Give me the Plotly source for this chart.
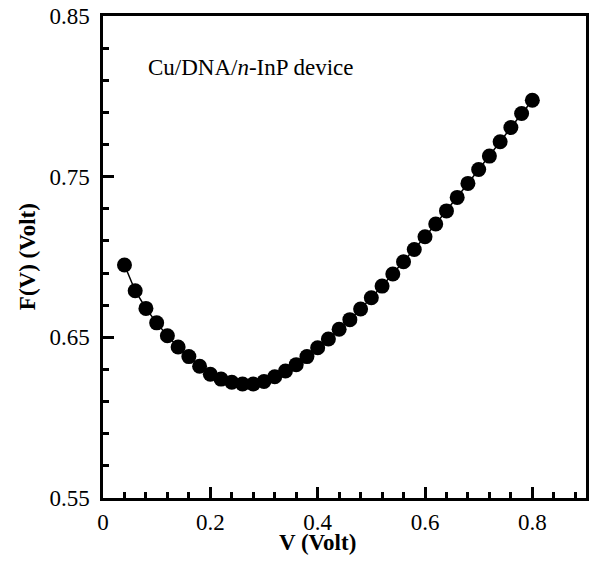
import plotly.graph_objects as go

# bias voltage (V) and Norde function F(V) (V)
voltage = [0.04, 0.06, 0.08, 0.10, 0.12, 0.14, 0.16, 0.18, 0.20, 0.22,
           0.24, 0.26, 0.28, 0.30, 0.32, 0.34, 0.36, 0.38, 0.40, 0.42,
           0.44, 0.46, 0.48, 0.50, 0.52, 0.54, 0.56, 0.58, 0.60, 0.62,
           0.64, 0.66, 0.68, 0.70, 0.72, 0.74, 0.76, 0.78, 0.80]
f_v = [0.695, 0.679, 0.668, 0.659, 0.651, 0.644, 0.638, 0.632, 0.627, 0.624,
       0.622, 0.621, 0.621, 0.6225, 0.6255, 0.629, 0.633, 0.638, 0.6435, 0.649,
       0.655, 0.661, 0.6676, 0.6746, 0.6819, 0.6894, 0.697, 0.7047, 0.7126, 0.7205,
       0.7287, 0.7371, 0.7458, 0.7545, 0.7628, 0.7717, 0.7806, 0.7893, 0.7976]

x_ticks = [0, 0.2, 0.4, 0.6, 0.8]
x_tick_text = ["0", "0.2", "0.4", "0.6", "0.8"]
y_ticks = [0.55, 0.65, 0.75, 0.85]
y_tick_text = ["0.55", "0.65", "0.75", "0.85"]

serif = "Liberation Serif, Times New Roman, serif"

fig = go.Figure(go.Scatter(
    x=voltage, y=f_v,
    mode="lines+markers",
    line=dict(color="black", width=1.5),
    marker=dict(color="black", size=15),
    showlegend=False,
    hoverinfo="skip"
))

axis_style = dict(
    showline=True, linecolor="black", linewidth=2.5, mirror=True,
    ticks="inside", ticklen=11, tickwidth=2.5, tickcolor="black",
    showgrid=False, zeroline=False, automargin=False,
    tickfont=dict(family=serif, size=23, color="black"),
    tickmode="array",
)

fig.update_layout(
    width=590, height=574,
    margin=dict(l=103, r=4, t=16, b=76),
    font=dict(family=serif, size=23, color="black"),
    plot_bgcolor="white", paper_bgcolor="white",
    xaxis=dict(range=[0, 0.9], tickvals=x_ticks, ticktext=x_tick_text,
               minor=dict(tickvals=[round(0.04 * i, 2) for i in range(1, 23)],
                          ticks="inside", ticklen=6, tickwidth=2.5, tickcolor="black"),
               ticklabelstandoff=2,
               **axis_style),
    yaxis=dict(range=[0.55, 0.85], tickvals=y_ticks, ticktext=y_tick_text,
               minor=dict(tickvals=[round(0.55 + 0.02 * i, 2) for i in range(1, 15)],
                          ticks="inside", ticklen=6, tickwidth=2.5, tickcolor="black"),
               ticklabelstandoff=6,
               **axis_style),
    annotations=[
        dict(text="<b>V (Volt)</b>", x=0.4, xref="x", y=-0.093, yref="paper",
             xanchor="center", yanchor="middle", showarrow=False,
             font=dict(family=serif, size=23, color="black")),
        dict(text="<b>F(V) (Volt)</b>", x=-0.157, xref="paper", y=0.5, yref="paper",
             xanchor="center", yanchor="middle", showarrow=False, textangle=-90,
             font=dict(family=serif, size=23, color="black")),
        dict(text="Cu/DNA/<i>n</i>-InP device", x=0.089, xref="paper", y=0.894, yref="paper",
             xanchor="left", yanchor="middle", showarrow=False,
             font=dict(family=serif, size=23, color="black")),
    ],
)

# drop the browser's default body margin so the figure sits at the page corner
fig.write_html("out.html", config={"displayModeBar": False},
               post_script="document.body.style.margin='0px';")
